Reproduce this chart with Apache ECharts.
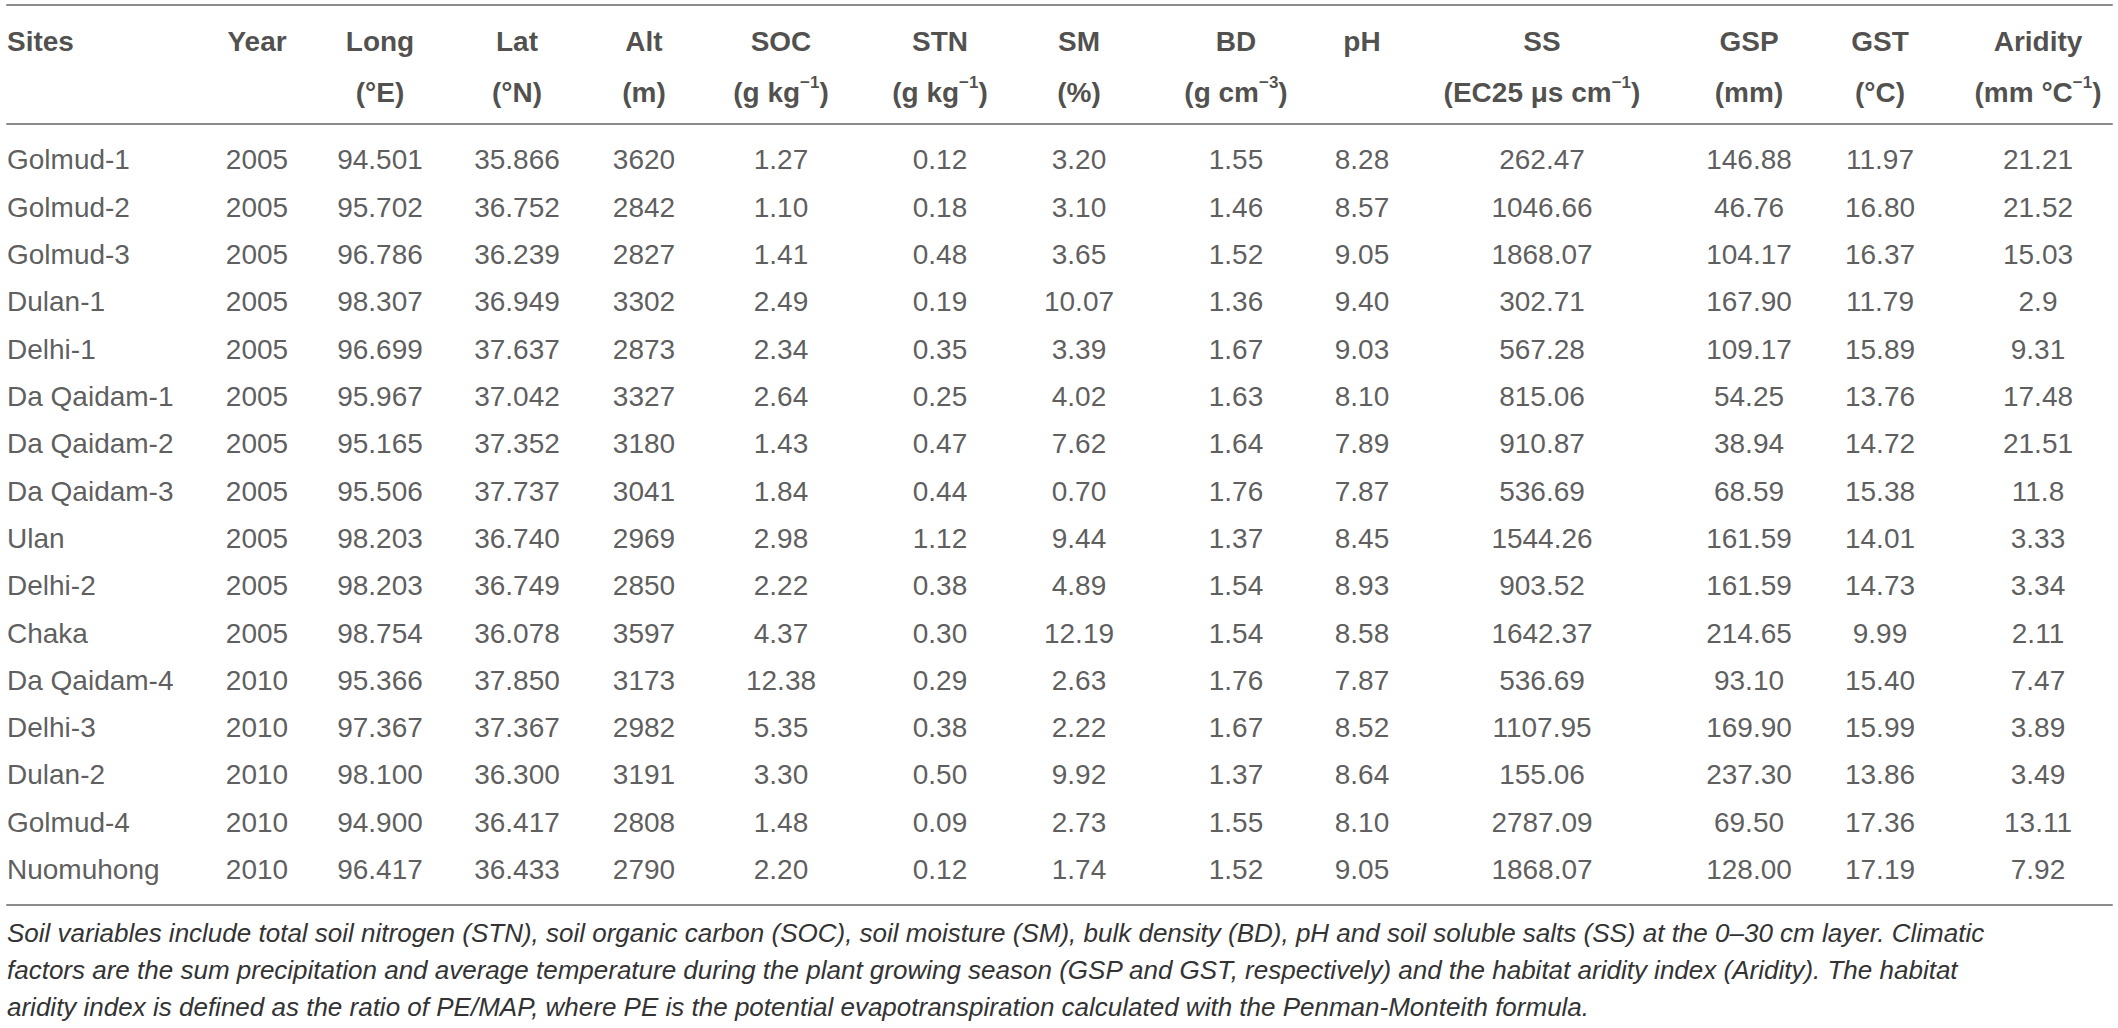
<!DOCTYPE html>
<html>
<head>
<meta charset="utf-8">
<script src="https://cdn.jsdelivr.net/npm/echarts@6/dist/echarts.min.js"></script>
<style>
html,body{margin:0;padding:0;background:#fff;}
#chart{width:2118px;height:1028px;}
</style>
</head>
<body>
<div id="chart"></div>
<script>
// ---------- data ----------
const headers = ['Sites','Year','Long','Lat','Alt','SOC','STN','SM','BD','pH','SS','GSP','GST','Aridity'];
const units = ['', '', '(°E)', '(°N)', '(m)', '(g kg^−1)', '(g kg^−1)', '(%)', '(g cm^−3)', '', '(EC25 μs cm^−1)', '(mm)', '(°C)', '(mm °C^−1)'];
const sites = ['Golmud-1','Golmud-2','Golmud-3','Dulan-1','Delhi-1','Da Qaidam-1','Da Qaidam-2','Da Qaidam-3','Ulan','Delhi-2','Chaka','Da Qaidam-4','Delhi-3','Dulan-2','Golmud-4','Nuomuhong'];
const years = [2005,2005,2005,2005,2005,2005,2005,2005,2005,2005,2005,2010,2010,2010,2010,2010];
const longE = [94.501,95.702,96.786,98.307,96.699,95.967,95.165,95.506,98.203,98.203,98.754,95.366,97.367,98.100,94.900,96.417];
const latN = [35.866,36.752,36.239,36.949,37.637,37.042,37.352,37.737,36.740,36.749,36.078,37.850,37.367,36.300,36.417,36.433];
const alt = [3620,2842,2827,3302,2873,3327,3180,3041,2969,2850,3597,3173,2982,3191,2808,2790];
const soc = [1.27,1.10,1.41,2.49,2.34,2.64,1.43,1.84,2.98,2.22,4.37,12.38,5.35,3.30,1.48,2.20];
const stn = [0.12,0.18,0.48,0.19,0.35,0.25,0.47,0.44,1.12,0.38,0.30,0.29,0.38,0.50,0.09,0.12];
const sm = [3.20,3.10,3.65,10.07,3.39,4.02,7.62,0.70,9.44,4.89,12.19,2.63,2.22,9.92,2.73,1.74];
const bd = [1.55,1.46,1.52,1.36,1.67,1.63,1.64,1.76,1.37,1.54,1.54,1.76,1.67,1.37,1.55,1.52];
const ph = [8.28,8.57,9.05,9.40,9.03,8.10,7.89,7.87,8.45,8.93,8.58,7.87,8.52,8.64,8.10,9.05];
const ss = [262.47,1046.66,1868.07,302.71,567.28,815.06,910.87,536.69,1544.26,903.52,1642.37,536.69,1107.95,155.06,2787.09,1868.07];
const gsp = [146.88,46.76,104.17,167.90,109.17,54.25,38.94,68.59,161.59,161.59,214.65,93.10,169.90,237.30,69.50,128.00];
const gst = [11.97,16.80,16.37,11.79,15.89,13.76,14.72,15.38,14.01,14.73,9.99,15.40,15.99,13.86,17.36,17.19];
const aridity = [21.21,21.52,15.03,2.9,9.31,17.48,21.51,11.8,3.33,3.34,2.11,7.47,3.89,3.49,13.11,7.92];
const notes = [
  'Soil variables include total soil nitrogen (STN), soil organic carbon (SOC), soil moisture (SM), bulk density (BD), pH and soil soluble salts (SS) at the 0–30 cm layer. Climatic',
  'factors are the sum precipitation and average temperature during the plant growing season (GSP and GST, respectively) and the habitat aridity index (Aridity). The habitat',
  'aridity index is defined as the ratio of PE/MAP, where PE is the potential evapotranspiration calculated with the Penman-Monteith formula.'
];

// ---------- layout / style ----------
const columns = [sites, years, longE, latN, alt, soc, stn, sm, bd, ph, ss, gsp, gst, aridity];
const decimals = [null, 0, 3, 3, 0, 2, 2, 2, 2, 2, 2, 2, 2, -1];
const colX = [7, 257, 380, 517, 644, 781, 940, 1079, 1236, 1362, 1542, 1749, 1880, 2038];
const FONT = '"Liberation Sans", Arial, Helvetica, sans-serif';
const TEXT = '#231f20';
const BODY = '#333333';
const RULE = '#8c8c8c';
const X0 = 7, X1 = 2112;

function fmt(v, d) {
  if (d === null || d < 0) return String(v);
  return Number(v).toFixed(d);
}
function headerRich(name, unit) {
  let second = '{b| }';
  if (unit) {
    const m = unit.match(/^(.*)\^([^)]*)(.*)$/);
    if (m) second = '{b|' + m[1] + '}{s|' + m[2] + '}{b|' + m[3] + '}';
    else second = '{b|' + unit + '}';
  }
  return '{b|' + name + '}\n' + second;
}

const series = [];
// body cells (grid 1)
columns.forEach((col, c) => {
  series.push({
    type: 'scatter',
    xAxisIndex: 1, yAxisIndex: 1,
    symbolSize: 0,
    silent: true,
    data: col.map((v, i) => [colX[c], i, v]),
    label: {
      show: true,
      position: 'inside',
      align: c === 0 ? 'left' : 'center',
      verticalAlign: 'middle',
      fontFamily: FONT,
      fontSize: 28,
      color: BODY,
      formatter: p => fmt(p.value[2], decimals[c])
    }
  });
});

// header cells (grid 0)
series.push({
  type: 'scatter',
  xAxisIndex: 0, yAxisIndex: 0,
  symbolSize: 0,
  silent: true,
  data: headers.map((h, c) => ({
    value: [colX[c], 0.525, c],
    label: { align: c === 0 ? 'left' : 'center' }
  })),
  label: {
    show: true,
    position: 'inside',
    verticalAlign: 'middle',
    formatter: p => headerRich(headers[p.value[2]], units[p.value[2]]),
    rich: {
      b: { fontFamily: FONT, fontSize: 28, fontWeight: 'bold', color: TEXT, lineHeight: 51 },
      s: { fontFamily: FONT, fontSize: 17, fontWeight: 'bold', color: TEXT, height: 31, lineHeight: 31, verticalAlign: 'top' }
    }
  }
});

function xAx(grid, pos, line) {
  return {
    type: 'value', gridIndex: grid, position: pos, min: X0, max: X1,
    axisLine: { show: line, onZero: false, lineStyle: { color: RULE, width: 2 } },
    axisTick: { show: false }, axisLabel: { show: false }, splitLine: { show: false }
  };
}

const option = {
  animation: false,
  backgroundColor: '#ffffff',
  title: {
    text: notes.join('\n'),
    left: 7,
    top: 914,
    padding: 0,
    textStyle: {
      fontFamily: FONT, fontSize: 26, fontStyle: 'italic', fontWeight: 'normal',
      color: BODY, lineHeight: 37
    }
  },
  grid: [
    { left: X0, right: 2118 - X1, top: 5, height: 119, containLabel: false },
    { left: X0, right: 2118 - X1, top: 124, bottom: 123, containLabel: false }
  ],
  xAxis: [
    xAx(0, 'top', true),
    xAx(1, 'top', true),
    xAx(1, 'bottom', true)
  ],
  yAxis: [
    { type: 'value', gridIndex: 0, inverse: true, min: 0, max: 1, show: false },
    { type: 'value', gridIndex: 1, inverse: true, min: -0.761, max: 15.75, show: false }
  ],
  series: series
};

const chart = echarts.init(document.getElementById('chart'), null, { renderer: 'svg' });
chart.setOption(option);

// header separator rule, placed through the body grid's own scales
const pA = chart.convertToPixel({ xAxisIndex: 1, yAxisIndex: 1 }, [X0, -0.761]);
const pB = chart.convertToPixel({ xAxisIndex: 1, yAxisIndex: 1 }, [X1, -0.761]);
chart.setOption({
  graphic: [{
    type: 'line', z: 100, silent: true,
    shape: { x1: pA[0], y1: pA[1], x2: pB[0], y2: pB[1] },
    style: { stroke: RULE, lineWidth: 2 }
  }]
});
</script>
</body>
</html>
